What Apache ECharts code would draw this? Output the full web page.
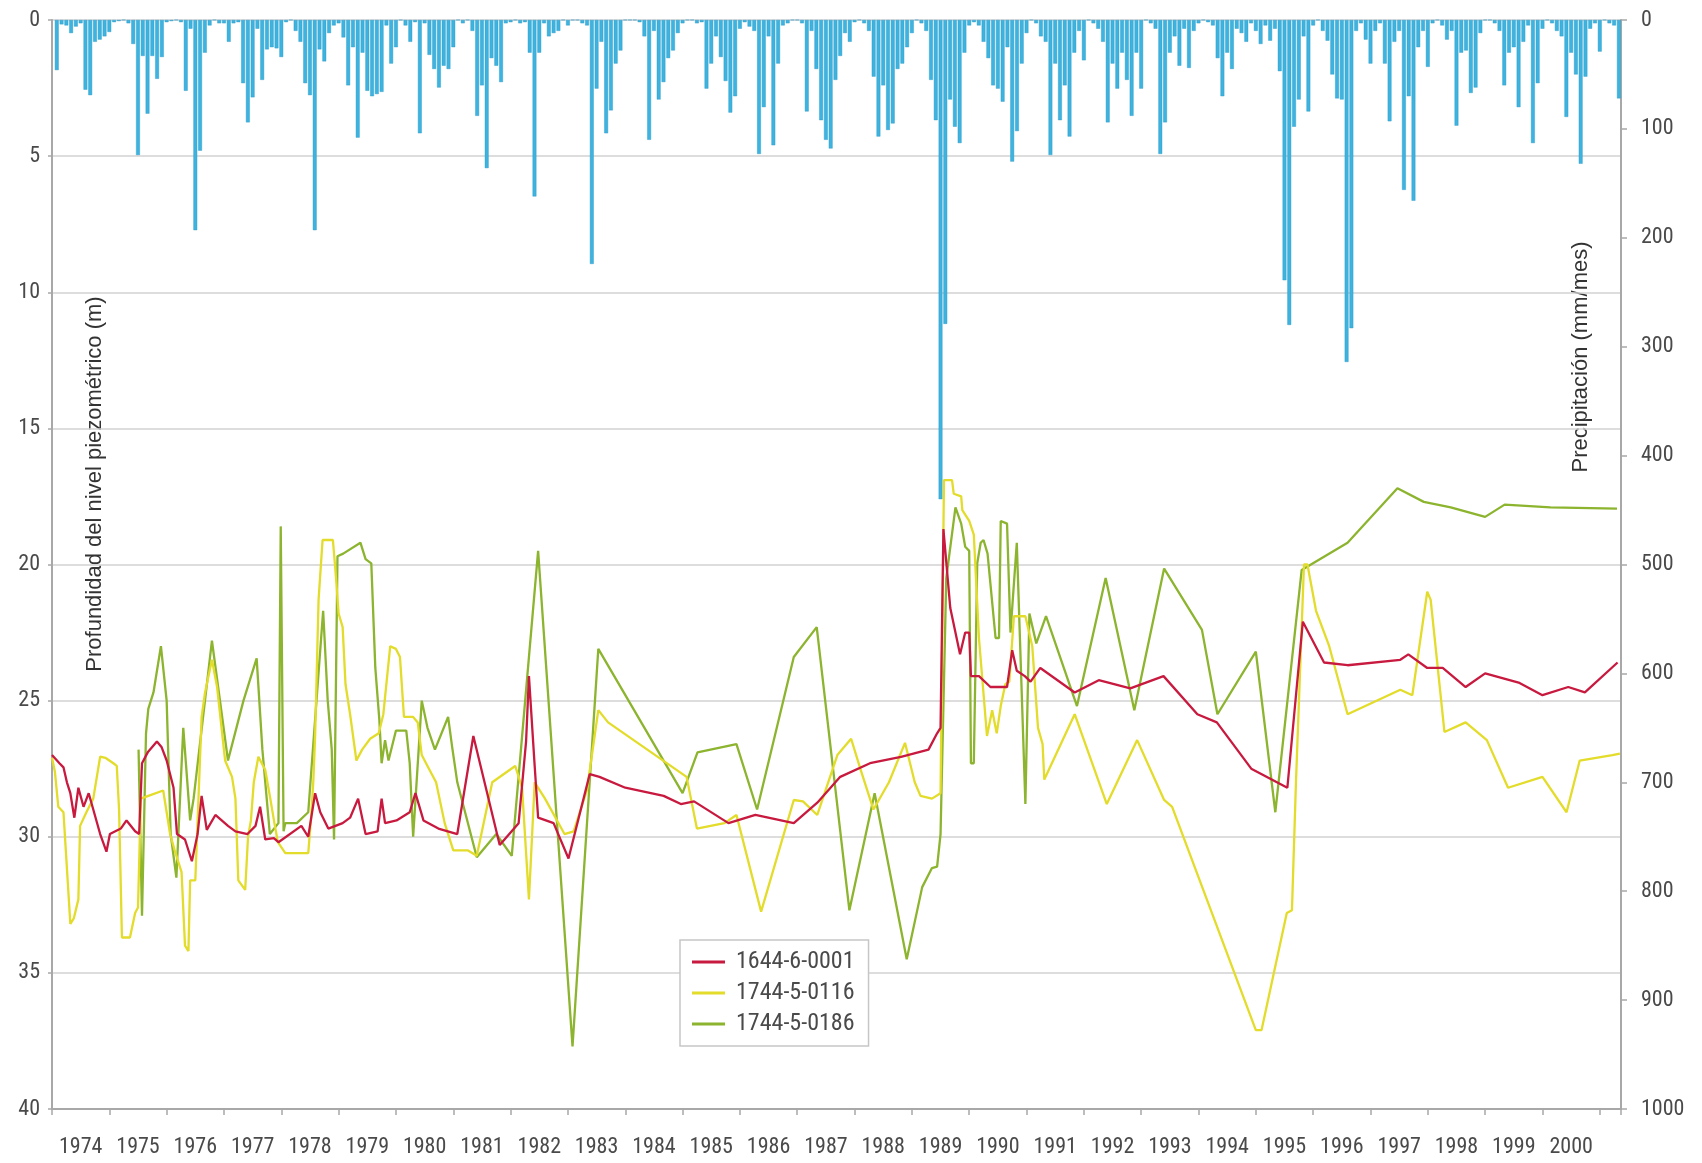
<!DOCTYPE html>
<html>
<head>
<meta charset="utf-8">
<title>Profundidad del nivel piezométrico y precipitación</title>
<script src="https://cdn.jsdelivr.net/npm/echarts@6/dist/echarts.min.js"></script>
<style>
  html, body { margin: 0; padding: 0; background: #ffffff; }
  #chart { width: 1702px; height: 1163px; }
</style>
</head>
<body>
<div id="chart"></div>
<script>
// Monthly precipitation totals (mm/mes), one row per year, starting January 1974
const rainFirstYear = 1974;
const monthlyRain = [
  46, 4, 5, 12, 6, 3, 64, 69, 20, 18, 15, 11,        // 1974
  2, 1, 0, 3, 22, 124, 33, 86, 33, 54, 34, 2,        // 1975
  1, 0, 2, 65, 8, 193, 120, 30, 5, 0, 3, 3,          // 1976
  20, 3, 2, 58, 94, 71, 8, 55, 27, 25, 26, 34,       // 1977
  2, 0, 10, 20, 58, 69, 193, 27, 38, 12, 5, 3,       // 1978
  16, 60, 25, 108, 30, 65, 70, 68, 66, 5, 40, 25,    // 1979
  0, 5, 20, 2, 104, 3, 32, 45, 62, 42, 45, 25,       // 1980
  0, 3, 0, 10, 88, 60, 136, 35, 42, 57, 3, 2,        // 1981
  0, 3, 2, 30, 162, 30, 3, 15, 12, 10, 0, 5,         // 1982
  0, 0, 3, 5, 224, 63, 20, 104, 83, 40, 28, 0,       // 1983
  0, 0, 2, 15, 110, 10, 73, 57, 35, 28, 12, 3,       // 1984
  0, 0, 3, 2, 63, 40, 15, 34, 56, 85, 70, 8,         // 1985
  2, 6, 10, 123, 80, 15, 115, 40, 5, 3, 0, 0,        // 1986
  3, 84, 10, 45, 92, 110, 118, 55, 33, 12, 20, 2,    // 1987
  0, 3, 10, 52, 107, 60, 101, 95, 45, 40, 25, 12,    // 1988
  0, 3, 10, 55, 92, 440, 279, 73, 98, 113, 30, 5,    // 1989
  2, 5, 20, 35, 60, 63, 75, 25, 130, 102, 40, 12,    // 1990
  0, 3, 15, 20, 124, 40, 92, 60, 107, 30, 10, 37,    // 1991
  0, 3, 8, 20, 94, 40, 63, 30, 55, 88, 30, 63,       // 1992
  0, 3, 8, 123, 94, 30, 15, 42, 8, 44, 10, 3,        // 1993
  0, 2, 5, 35, 70, 30, 45, 8, 12, 20, 3, 10,         // 1994
  22, 5, 19, 8, 47, 239, 280, 98, 73, 15, 84, 5,     // 1995
  0, 10, 19, 50, 72, 73, 314, 283, 10, 3, 18, 40,    // 1996
  10, 3, 40, 93, 20, 10, 156, 70, 166, 25, 10, 43,   // 1997
  3, 0, 5, 18, 10, 97, 30, 28, 67, 62, 12, 0,        // 1998
  0, 3, 10, 60, 30, 25, 80, 20, 5, 113, 58, 8,       // 1999
  0, 3, 10, 15, 89, 30, 50, 132, 52, 8, 3, 29,       // 2000
  0, 3, 5, 72                                        // 2001
];

// Piezometric depth (m) per well: [decimal year, depth]
const well0001 = [
  [1974.00,27.0],[1974.13,27.3],[1974.20,27.45],[1974.26,28.0],[1974.32,28.4],[1974.39,29.3],
  [1974.46,28.2],[1974.55,28.9],[1974.64,28.4],[1974.72,29.0],[1974.84,29.9],[1974.95,30.55],
  [1975.01,29.9],[1975.20,29.7],[1975.30,29.4],[1975.45,29.8],[1975.52,29.9],[1975.57,27.3],
  [1975.67,26.9],[1975.83,26.5],[1975.91,26.7],[1976.00,27.2],[1976.12,28.2],[1976.18,29.9],
  [1976.32,30.1],[1976.44,30.9],[1976.54,29.9],[1976.61,28.5],[1976.70,29.75],[1976.85,29.2],
  [1977.07,29.6],[1977.20,29.8],[1977.41,29.9],[1977.55,29.6],[1977.63,28.9],[1977.72,30.1],
  [1977.87,30.05],[1977.95,30.2],[1978.35,29.6],[1978.47,30.0],[1978.59,28.4],[1978.68,29.1],
  [1978.82,29.7],[1979.07,29.5],[1979.20,29.3],[1979.34,28.6],[1979.47,29.9],[1979.68,29.8],
  [1979.75,28.6],[1979.81,29.5],[1980.01,29.4],[1980.24,29.1],[1980.34,28.4],[1980.48,29.4],
  [1980.74,29.7],[1981.07,29.9],[1981.35,26.3],[1981.81,30.3],[1982.14,29.5],[1982.27,26.5],
  [1982.32,24.1],[1982.42,27.4],[1982.48,29.3],[1982.75,29.5],[1983.01,30.8],[1983.38,27.7],
  [1983.55,27.8],[1984.00,28.2],[1984.67,28.5],[1984.97,28.8],[1985.20,28.7],[1985.80,29.5],
  [1986.27,29.2],[1986.94,29.5],[1987.35,28.75],[1987.75,27.8],[1988.27,27.3],[1988.81,27.07],
  [1989.29,26.8],[1989.44,26.2],[1989.50,26.0],[1989.55,18.7],[1989.67,21.6],[1989.84,23.3],
  [1989.93,22.5],[1990.00,22.5],[1990.03,24.1],[1990.17,24.1],[1990.37,24.5],[1990.66,24.5],
  [1990.75,23.15],[1990.83,23.9],[1990.97,24.1],[1991.07,24.3],[1991.24,23.8],[1991.84,24.7],
  [1992.26,24.25],[1992.81,24.55],[1993.07,24.35],[1993.39,24.1],[1993.98,25.5],[1994.32,25.8],
  [1994.92,27.5],[1995.55,28.2],[1995.82,22.1],[1996.19,23.6],[1996.60,23.7],[1997.52,23.5],
  [1997.66,23.3],[1997.99,23.8],[1998.26,23.8],[1998.66,24.5],[1999.00,24.0],[1999.60,24.35],
  [2000.00,24.8],[2000.45,24.5],[2000.74,24.7],[2001.31,23.6]
];

const well0116 = [
  [1974.00,27.1],[1974.05,27.6],[1974.11,28.9],[1974.20,29.1],[1974.32,33.2],[1974.38,33.0],
  [1974.46,32.3],[1974.49,29.6],[1974.60,29.1],[1974.72,28.6],[1974.84,27.06],[1974.93,27.1],
  [1975.07,27.3],[1975.13,27.4],[1975.17,29.0],[1975.22,33.7],[1975.36,33.7],[1975.45,32.8],
  [1975.50,32.6],[1975.55,28.6],[1975.68,28.5],[1975.94,28.3],[1976.06,29.9],[1976.14,30.5],
  [1976.26,31.3],[1976.32,34.0],[1976.38,34.2],[1976.41,31.6],[1976.50,31.6],[1976.61,25.6],
  [1976.67,24.7],[1976.79,23.5],[1976.88,24.5],[1977.02,27.2],[1977.14,27.8],[1977.20,28.6],
  [1977.25,31.6],[1977.37,31.95],[1977.42,30.0],[1977.47,29.4],[1977.52,28.0],[1977.60,27.06],
  [1977.72,27.55],[1977.80,28.5],[1977.88,29.5],[1977.94,30.2],[1978.07,30.6],[1978.47,30.6],
  [1978.52,29.3],[1978.56,27.9],[1978.59,26.3],[1978.65,21.3],[1978.72,19.1],[1978.90,19.1],
  [1978.94,20.1],[1979.00,21.8],[1979.07,22.3],[1979.12,24.4],[1979.20,25.5],[1979.31,27.2],
  [1979.41,26.8],[1979.55,26.4],[1979.70,26.2],[1979.78,25.5],[1979.90,23.0],[1980.00,23.1],
  [1980.07,23.4],[1980.14,25.6],[1980.30,25.6],[1980.38,25.8],[1980.45,27.0],[1980.55,27.4],
  [1980.70,28.0],[1980.85,29.5],[1981.00,30.5],[1981.25,30.5],[1981.41,30.7],[1981.68,28.0],
  [1982.08,27.4],[1982.20,28.2],[1982.32,32.3],[1982.42,28.0],[1982.60,28.6],[1982.94,29.9],
  [1983.10,29.8],[1983.33,28.3],[1983.53,25.35],[1983.70,25.8],[1985.07,27.8],[1985.25,29.7],
  [1985.73,29.5],[1985.94,29.2],[1986.37,32.75],[1986.94,28.65],[1987.10,28.7],[1987.35,29.2],
  [1987.70,27.0],[1987.94,26.4],[1988.10,27.5],[1988.33,29.0],[1988.60,28.0],[1988.88,26.55],
  [1989.05,28.0],[1989.15,28.5],[1989.35,28.6],[1989.50,28.4],[1989.56,16.9],[1989.70,16.9],
  [1989.73,17.4],[1989.86,17.5],[1989.88,18.0],[1990.00,18.4],[1990.08,18.9],[1990.17,22.7],
  [1990.31,26.3],[1990.40,25.35],[1990.48,26.2],[1990.55,25.2],[1990.63,24.4],[1990.70,24.3],
  [1990.78,21.9],[1990.98,21.9],[1991.10,23.0],[1991.20,26.0],[1991.28,26.6],[1991.31,27.9],
  [1991.84,25.5],[1992.40,28.8],[1992.93,26.45],[1993.40,28.65],[1993.54,28.9],[1995.00,37.1],
  [1995.10,37.1],[1995.54,32.8],[1995.63,32.7],[1995.70,28.0],[1995.84,20.0],[1995.90,20.0],
  [1996.05,21.7],[1996.28,23.0],[1996.60,25.5],[1997.52,24.6],[1997.73,24.8],[1997.99,21.0],
  [1998.05,21.3],[1998.29,26.15],[1998.66,25.8],[1999.03,26.45],[1999.40,28.2],[2000.00,27.8],
  [2000.42,29.1],[2000.65,27.2],[2001.22,27.0],[2001.35,26.95]
];

const well0186 = [
  [1975.51,26.8],[1975.57,32.9],[1975.64,26.2],[1975.68,25.3],[1975.77,24.7],[1975.90,23.0],
  [1976.00,25.0],[1976.07,29.9],[1976.17,31.5],[1976.29,26.0],[1976.41,29.4],[1976.47,28.6],
  [1976.79,22.8],[1977.07,27.2],[1977.34,25.0],[1977.57,23.45],[1977.67,26.8],[1977.80,29.9],
  [1977.95,29.5],[1977.99,18.6],[1978.04,29.8],[1978.07,29.5],[1978.27,29.5],[1978.47,29.1],
  [1978.73,21.7],[1978.81,25.0],[1978.88,26.8],[1978.92,30.1],[1978.98,19.7],[1979.08,19.6],
  [1979.38,19.2],[1979.47,19.8],[1979.57,19.96],[1979.64,23.8],[1979.71,25.7],[1979.75,27.3],
  [1979.81,26.45],[1979.87,27.2],[1980.00,26.1],[1980.18,26.1],[1980.24,27.3],[1980.30,30.0],
  [1980.45,25.0],[1980.55,26.0],[1980.68,26.8],[1980.91,25.6],[1980.98,26.7],[1981.07,28.0],
  [1981.41,30.75],[1981.75,29.9],[1982.02,30.7],[1982.48,19.5],[1983.08,37.7],[1983.53,23.1],
  [1985.00,28.4],[1985.26,26.9],[1985.94,26.6],[1986.30,29.0],[1986.94,23.4],[1987.34,22.3],
  [1987.91,32.7],[1988.35,28.4],[1988.91,34.5],[1989.18,31.85],[1989.35,31.15],[1989.44,31.1],
  [1989.50,29.9],[1989.60,20.5],[1989.76,17.9],[1989.86,18.5],[1989.93,19.35],[1990.00,19.5],
  [1990.03,27.3],[1990.08,27.3],[1990.14,19.96],[1990.20,19.2],[1990.25,19.1],[1990.32,19.6],
  [1990.46,22.7],[1990.52,22.7],[1990.55,18.4],[1990.66,18.5],[1990.72,22.5],[1990.83,19.2],
  [1990.98,28.8],[1991.05,21.8],[1991.17,22.9],[1991.34,21.9],[1991.88,25.2],[1992.38,20.5],
  [1992.88,25.35],[1993.40,20.15],[1994.06,22.4],[1994.33,25.5],[1995.00,23.2],[1995.34,29.1],
  [1995.80,20.2],[1996.60,19.2],[1997.47,17.2],[1997.93,17.7],[1998.40,17.9],[1999.00,18.25],
  [1999.34,17.8],[2000.14,17.9],[2001.30,17.95]
];

const wellNames = ['1644-6-0001', '1744-5-0116', '1744-5-0186'];
const depthTicks = { min: 0, max: 40, step: 5 };
const rainTicks = { min: 0, max: 1000, step: 100 };
const yearRange = { min: 1974, max: 2001.37 };

const COLORS = {
  rain: '#3db3df',
  rainEdge: '#2b98c4',
  w0001: '#c8193f',
  w0116: '#e3dc2a',
  w0186: '#8cb42e',
  axis: '#a8a8a8',
  grid: '#d2d2d2',
  text: '#4a4a4a'
};
const NUM_FONT = '"Noto Sans ExtraCondensed", "Roboto Condensed", "Noto Sans Condensed", "Liberation Sans Narrow", "DejaVu Sans Condensed", sans-serif';
const TITLE_FONT = '"Liberation Sans", "DejaVu Sans", sans-serif';

// Monthly totals are plotted at the close of each month
const rainSeries = monthlyRain.map((v, i) => [rainFirstYear + (i + 1) / 12, v]);

const chart = echarts.init(document.getElementById('chart'), null, { renderer: 'canvas' });

const numLabel = { color: COLORS.text, fontFamily: NUM_FONT, fontSize: 22 };

chart.setOption({
  animation: false,
  backgroundColor: '#ffffff',
  grid: { left: 52, right: 81, top: 20, bottom: 54, containLabel: false },
  xAxis: [
    {
      // year boundaries: axis line and tick marks
      type: 'value', position: 'bottom',
      min: yearRange.min, max: yearRange.max, interval: 1,
      axisLine: { show: true, onZero: false, lineStyle: { color: COLORS.axis, width: 2 } },
      axisTick: { show: true, length: 6, lineStyle: { color: COLORS.axis, width: 1.5 } },
      axisLabel: { show: false },
      splitLine: { show: false }
    },
    {
      // year names centred inside each year
      type: 'value', position: 'bottom',
      min: yearRange.min, max: yearRange.max, interval: 0.5,
      axisLine: { show: false, onZero: false },
      axisTick: { show: false },
      splitLine: { show: false },
      axisLabel: Object.assign({}, numLabel, {
        margin: 27,
        formatter: v => Math.abs(v - Math.floor(v) - 0.5) < 1e-6 ? String(Math.floor(v)) : ''
      })
    }
  ],
  yAxis: [
    {
      type: 'value', position: 'left', inverse: true,
      min: depthTicks.min, max: depthTicks.max, interval: depthTicks.step,
      axisLine: { show: true, onZero: false, lineStyle: { color: COLORS.axis, width: 2 } },
      axisTick: { show: true, length: 4, lineStyle: { color: COLORS.axis, width: 1.5 } },
      axisLabel: Object.assign({}, numLabel, { margin: 12, formatter: v => String(v) }),
      splitLine: { show: true, lineStyle: { color: COLORS.grid, width: 1.5 } }
    },
    {
      type: 'value', position: 'right', inverse: true,
      min: rainTicks.min, max: rainTicks.max, interval: rainTicks.step,
      axisLine: { show: true, onZero: false, lineStyle: { color: COLORS.axis, width: 2 } },
      axisTick: { show: true, length: 6, lineStyle: { color: COLORS.axis, width: 1.5 } },
      axisLabel: Object.assign({}, numLabel, { margin: 20, formatter: v => String(v) }),
      splitLine: { show: false }
    }
  ],
  legend: {
    orient: 'vertical',
    left: 680, top: 940,
    data: wellNames,
    icon: 'rect',
    itemWidth: 33, itemHeight: 3, itemGap: 7,
    padding: [10, 14, 10, 12],
    borderColor: '#c6c6c6', borderWidth: 1.5,
    backgroundColor: '#ffffff',
    selectedMode: false,
    textStyle: { color: COLORS.text, fontFamily: NUM_FONT, fontSize: 24, padding: [0, 0, 0, 6] }
  },
  graphic: [
    {
      type: 'text', x: 95, y: 484, rotation: Math.PI / 2, silent: true,
      style: {
        text: 'Profundidad del nivel piezométrico (m)',
        font: '22px ' + TITLE_FONT, fill: '#333333',
        align: 'center', verticalAlign: 'middle'
      }
    },
    {
      type: 'text', x: 1581, y: 357, rotation: Math.PI / 2, silent: true,
      style: {
        text: 'Precipitación (mm/mes)',
        font: '22px ' + TITLE_FONT, fill: '#333333',
        align: 'center', verticalAlign: 'middle'
      }
    }
  ],
  series: [
    {
      name: 'Precipitación', type: 'bar',
      xAxisIndex: 0, yAxisIndex: 1,
      data: rainSeries,
      barWidth: 3.8,
      itemStyle: { color: COLORS.rain, borderColor: COLORS.rainEdge, borderWidth: 0.4 },
      silent: true, z: 1
    },
    {
      name: wellNames[2], type: 'line', xAxisIndex: 0, yAxisIndex: 0,
      data: well0186, showSymbol: false, symbol: 'none',
      lineStyle: { color: COLORS.w0186, width: 2.3 }, itemStyle: { color: COLORS.w0186 }, z: 2
    },
    {
      name: wellNames[1], type: 'line', xAxisIndex: 0, yAxisIndex: 0,
      data: well0116, showSymbol: false, symbol: 'none',
      lineStyle: { color: COLORS.w0116, width: 2.3 }, itemStyle: { color: COLORS.w0116 }, z: 3
    },
    {
      name: wellNames[0], type: 'line', xAxisIndex: 0, yAxisIndex: 0,
      data: well0001, showSymbol: false, symbol: 'none',
      lineStyle: { color: COLORS.w0001, width: 2.3 }, itemStyle: { color: COLORS.w0001 }, z: 4
    }
  ]
});
</script>
</body>
</html>
